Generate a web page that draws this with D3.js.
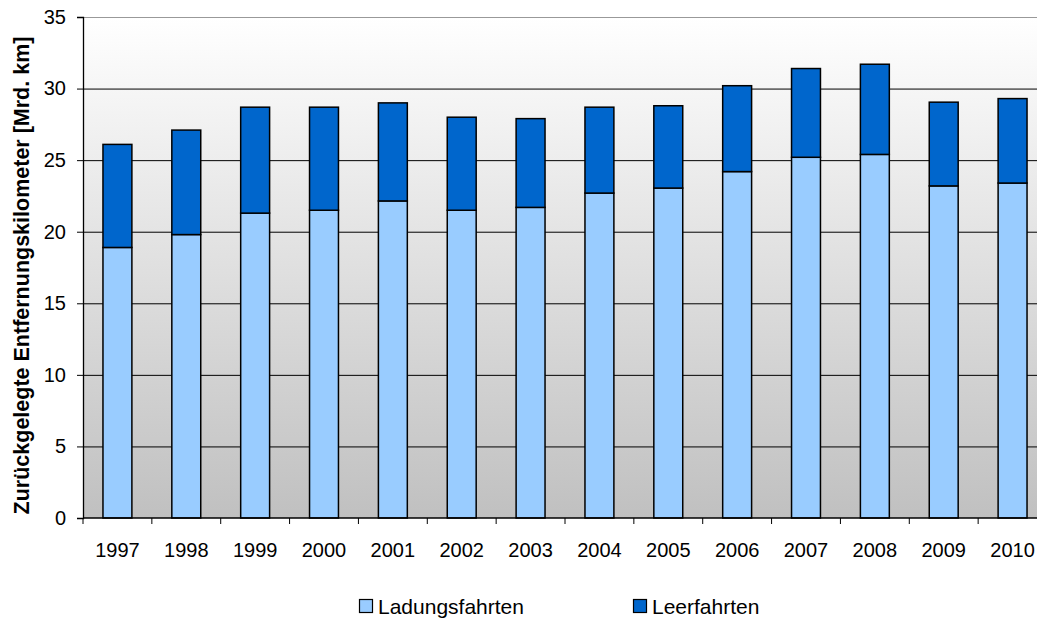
<!DOCTYPE html>
<html>
<head>
<meta charset="utf-8">
<script src="https://cdn.jsdelivr.net/npm/d3@7"></script>
<style>
  html, body { margin: 0; padding: 0; background: #fff; }
  svg { display: block; font-family: 'Liberation Sans', Arial, sans-serif; }
</style>
</head>
<body>
<div id="chart"></div>
<script>
// Data
const years = ['1997','1998','1999','2000','2001','2002','2003','2004','2005','2006','2007','2008','2009','2010'];
const ladung = [18.9, 19.8, 21.3, 21.5, 22.15, 21.5, 21.7, 22.7, 23.05, 24.2, 25.2, 25.4, 23.2, 23.4];
const leer   = [7.2, 7.3, 7.4, 7.2, 6.85, 6.5, 6.2, 6.0, 5.75, 6.0, 6.2, 6.3, 5.85, 5.9];
const yTicks = [0, 5, 10, 15, 20, 25, 30, 35];
const seriesNames = ['Ladungsfahrten', 'Leerfahrten'];
const seriesColors = ['#99ccff', '#0066cc'];

const W = 1037, H = 621;
const m = { top: 17, left: 83 };
const iW = 964, iH = 501;   // plot runs past the right edge like the original

const svg = d3.select('#chart').append('svg').attr('width', W).attr('height', H);

// background gradient
const defs = svg.append('defs');
const grad = defs.append('linearGradient').attr('id', 'bg').attr('x1', 0).attr('y1', 0).attr('x2', 0).attr('y2', 1);
grad.append('stop').attr('offset', '0%').attr('stop-color', '#ffffff');
grad.append('stop').attr('offset', '100%').attr('stop-color', '#c0c0c0');

const g = svg.append('g').attr('transform', `translate(${m.left},${m.top})`);

const x = d3.scaleBand().domain(years).range([0, iW]).paddingInner(0.58).paddingOuter(0.29);
const xb = d3.scaleBand().domain(years).range([0, iW]);
const y = d3.scaleLinear().domain([0, 35]).range([iH, 0]);

g.append('rect').attr('width', iW).attr('height', iH).attr('fill', 'url(#bg)');

// grid lines
g.append('g')
  .call(d3.axisLeft(y).tickValues(yTicks.filter(t => t > 0 && t < 35)).tickSize(-iW).tickFormat(''))
  .call(s => { s.select('.domain').remove(); s.selectAll('line').attr('stroke', '#000').attr('stroke-width', 1); });
// top border
g.append('line').attr('x1', 0).attr('x2', iW).attr('y1', y(35) + 0.5).attr('y2', y(35) + 0.5)
  .attr('stroke', '#999').attr('stroke-width', 1.2);

// stacked bars
const stackData = years.map((yr, i) => ({ year: yr, Ladungsfahrten: ladung[i], Leerfahrten: leer[i] }));
const stacked = d3.stack().keys(seriesNames)(stackData);
stacked.forEach((layer, li) => {
  g.selectAll('.bar' + li).data(layer).enter().append('rect')
    .attr('x', d => x(d.data.year))
    .attr('y', d => y(d[1]))
    .attr('width', x.bandwidth())
    .attr('height', d => y(d[0]) - y(d[1]))
    .attr('fill', seriesColors[li])
    .attr('stroke', '#000').attr('stroke-width', 1.5);
});

// Y axis
g.append('g')
  .call(d3.axisLeft(y).tickValues(yTicks).tickSize(6).tickPadding(11))
  .call(s => {
    s.select('.domain').attr('stroke', '#000').attr('stroke-width', 1.3);
    s.selectAll('line').attr('stroke', '#000');
    s.selectAll('text').attr('font-size', 20).attr('fill', '#000').attr('font-family', 'Liberation Sans, Arial, sans-serif');
  });

// X axis with ticks at category boundaries
const xAxisG = g.append('g').attr('transform', `translate(0,${iH})`);
xAxisG.append('line').attr('x1', 0).attr('x2', iW).attr('stroke', '#000').attr('stroke-width', 1.3);
xAxisG.selectAll('.tk').data(years.concat(['end'])).enter().append('line')
  .attr('x1', (d, i) => i * xb.step()).attr('x2', (d, i) => i * xb.step())
  .attr('y1', 0).attr('y2', 6).attr('stroke', '#000');
xAxisG.selectAll('.lbl').data(years).enter().append('text')
  .attr('x', d => xb(d) + xb.bandwidth() / 2)
  .attr('y', 39)
  .attr('text-anchor', 'middle')
  .attr('font-size', 20).attr('fill', '#000')
  .text(d => d);

// Y axis title
svg.append('text')
  .attr('transform', `translate(29,${m.top + iH / 2 + 8}) rotate(-90)`)
  .attr('text-anchor', 'middle')
  .attr('font-size', 21.5).attr('font-weight', 'bold').attr('fill', '#000')
  .text('Zurückgelegte Entfernungskilometer [Mrd. km]');

// Legend
const legendX = [359, 633];
seriesNames.forEach((name, i) => {
  const row = svg.append('g').attr('transform', `translate(${legendX[i]},599)`);
  row.append('rect').attr('x', 0.5).attr('y', 0.5).attr('width', 13).attr('height', 13)
    .attr('fill', seriesColors[i]).attr('stroke', '#000').attr('stroke-width', 1.2);
  row.append('text').attr('x', 19).attr('y', 15).attr('font-size', 21).attr('fill', '#000').text(name);
});
</script>
</body>
</html>
